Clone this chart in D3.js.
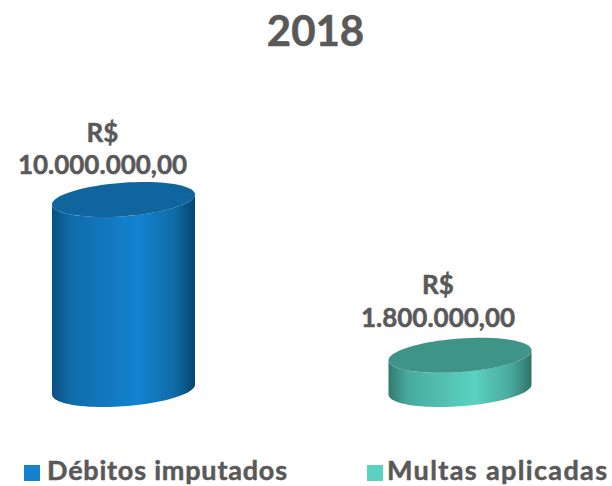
<!DOCTYPE html>
<html>
<head>
<meta charset="utf-8">
<script src="https://cdn.jsdelivr.net/npm/d3@7"></script>
<style>
  body { margin: 0; background: #fff; }
  text { font-family: "Lato", "Open Sans", sans-serif; font-weight: 700; fill: #595959; stroke: #595959; stroke-width: 0.5px; }
</style>
</head>
<body>
<div id="chart"></div>
<script>
// data
const chartTitle = "2018";
const categories = ["Débitos imputados", "Multas aplicadas"];
const values = [10000000, 1800000];
const valueLabels = ["10.000.000,00", "1.800.000,00"];
const currency = "R$";
const sideStops = [
  ["#0a5081", "#0f6ca8", "#1175b9", "#1482d0", "#0f6ca8", "#07456e"],
  ["#327a70", "#48a89b", "#50bbad", "#5bd1c1", "#49aa9d", "#30746a"]
];
const topColors = ["#10659f", "#3f9488"];
const legendColors = ["#1482d0", "#5bd1c1"];

const width = 612;
const height = 486;

const svg = d3.select("#chart")
  .append("svg")
  .attr("width", width)
  .attr("height", height);

const xScale = d3.scaleBand()
  .domain(categories)
  .range([-44.75, 628.25])
  .paddingInner(0.575)
  .paddingOuter(0.2875);

const yScale = d3.scaleLinear()
  .domain([0, 10000000])
  .range([389.5, 199.5]);

// shape of the tilted ellipse
const rx = () => xScale.bandwidth() / 2;
const tilt = -5;
const ry = 16.8;

// one point on the ellipse around a bar's centre
function ellipsePoint(cx, cy, t) {
  return [cx + rx() * Math.cos(t), cy + tilt * Math.cos(t) + ry * Math.sin(t)];
}

const line = d3.line();
const angles = n => d3.range(n + 1).map(i => i / n);

function topPath(d) {
  const cx = xScale(d.name) + rx();
  const cy = yScale(d.value);
  return line(angles(80).map(k => ellipsePoint(cx, cy, k * 2 * Math.PI))) + "Z";
}

function bodyPath(d) {
  const cx = xScale(d.name) + rx();
  const top = yScale(d.value);
  const bottom = yScale(0);
  // front half of the base, then back along the top rim
  const base = angles(50).map(k => ellipsePoint(cx, bottom, k * Math.PI));
  const rim = angles(50).map(k => ellipsePoint(cx, top, Math.PI - k * Math.PI));
  return line(base.concat(rim)) + "Z";
}

const data = categories.map((name, i) => ({ name: name, value: values[i], i: i }));

const defs = svg.append("defs");
data.forEach(function(d) {
  const grad = defs.append("linearGradient")
    .attr("id", "side" + d.i)
    .attr("x1", 0).attr("x2", 1).attr("y1", 0).attr("y2", 0);
  const offsets = [0, 0.13, 0.32, 0.6, 0.85, 1];
  sideStops[d.i].forEach(function(c, j) {
    grad.append("stop").attr("offset", offsets[j]).attr("stop-color", c);
  });
});

svg.append("text")
  .attr("x", 315.5)
  .attr("y", 46)
  .attr("text-anchor", "middle")
  .attr("font-size", 42)
  .text(chartTitle);

const bars = svg.selectAll(".bar")
  .data(data)
  .enter()
  .append("g")
  .attr("class", "bar");

bars.append("path")
  .attr("d", bodyPath)
  .attr("fill", d => "url(#side" + d.i + ")");

bars.append("path")
  .attr("d", topPath)
  .attr("fill", d => topColors[d.i]);

// value labels sit above each bar
bars.append("text")
  .attr("x", d => xScale(d.name) + rx() - (d.i === 0 ? 21 : 22))
  .attr("y", d => yScale(d.value) - (d.i === 0 ? 58 : 61))
  .attr("text-anchor", "middle")
  .attr("font-size", 26)
  .text(currency);

bars.append("text")
  .attr("x", d => xScale(d.name) + rx() - (d.i === 0 ? 21 : 22))
  .attr("y", d => yScale(d.value) - (d.i === 0 ? 26 : 28))
  .attr("text-anchor", "middle")
  .attr("font-size", 26)
  .text(d => valueLabels[d.i]);

// legend
const legendX = d3.scaleOrdinal().domain(categories).range([24, 367]);
const legendTextWidth = d3.scaleOrdinal().domain(categories).range([240, 220]);

const legend = svg.selectAll(".legend")
  .data(data)
  .enter()
  .append("g")
  .attr("class", "legend")
  .attr("transform", d => `translate(${legendX(d.name)},465)`);

legend.append("rect")
  .attr("width", 16)
  .attr("height", 16)
  .attr("fill", d => legendColors[d.i]);

legend.append("text")
  .attr("x", d => d.i === 0 ? 23 : 20)
  .attr("y", 15)
  .attr("font-size", 27)
  .attr("textLength", d => legendTextWidth(d.name))
  .text(d => d.name);
</script>
</body>
</html>
